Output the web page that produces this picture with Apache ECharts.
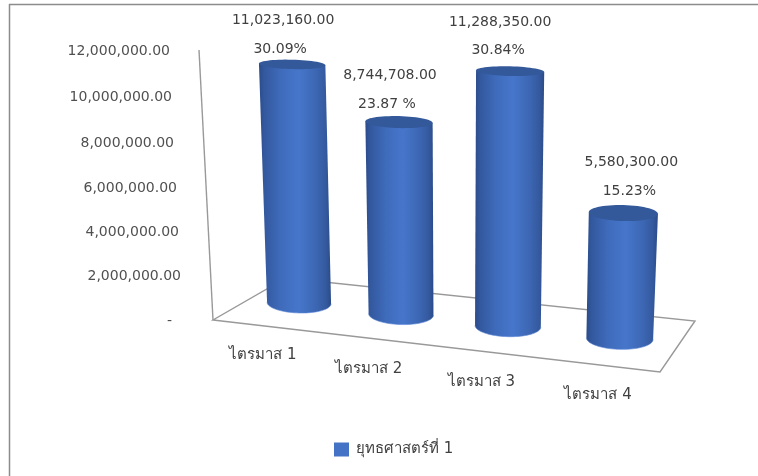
<!DOCTYPE html>
<html><head><meta charset="utf-8">
<style>html,body{margin:0;padding:0;background:#fff}#c{width:758px;height:476px}</style>
<script src="https://cdn.jsdelivr.net/npm/echarts@6/dist/echarts.min.js"></script>
</head><body><div id="c"></div>
<script>
const categories = ['ไตรมาส 1','ไตรมาส 2','ไตรมาส 3','ไตรมาส 4'];
const seriesName = 'ยุทธศาสตร์ที่ 1';
const amounts = [11023160, 8744708, 11288350, 5580300];
const shareLabels = ['30.09%','23.87 %','30.84%','15.23%'];
const yTicks = [0, 2000000, 4000000, 6000000, 8000000, 10000000, 12000000];

const FONT = '14px "DejaVu Sans", sans-serif';
const TEXT = '#404040', LINE = '#999999';
const money = v => v.toLocaleString('en-US',{minimumFractionDigits:2,maximumFractionDigits:2});

// floor corners of the sketched 3D box
const F = {fl:[213,320], fr:[660,372], bl:[286,278], br:[695,321]};
const warp = t => .001 + .907*t + .092*t*t;
function floor(t,d){
  const a=[F.fl[0]+(F.fr[0]-F.fl[0])*t, F.fl[1]+(F.fr[1]-F.fl[1])*t];
  const b=[F.bl[0]+(F.br[0]-F.bl[0])*t, F.bl[1]+(F.br[1]-F.bl[1])*t];
  return [a[0]+(b[0]-a[0])*d, a[1]+(b[1]-a[1])*d];
}
function ell(cx,cy,rx,ry,tilt,a0,a1,n){
  const out=[];
  for(let i=0;i<=n;i++){const a=a0+(a1-a0)*i/n;
    out.push([cx+rx*Math.cos(a), cy+ry*Math.sin(a)+tilt*rx*Math.cos(a)]);}
  return out;
}
const ryAt = y => 3.3 + .022*y;
// per-column perspective scale and label offsets from the column top
const depthScale = [.962,.977,1.004,1.0];
const labelOffsets = [[-9,-44,-12,-15],[-9,-47,-12,-18],[-10,-48.5,-12,-20.5],[8,-51,6,-22]];

function renderCylinder(params, api){
  const i=api.value(0), v=api.value(1), cs=params.coordSys;
  const gb=api.coord([i,0]), gt=api.coord([i,v]);
  const t=warp((gb[0]-cs.x)/cs.width);
  const base=floor(t,.5); base[1]-=1.5;
  const h=(gb[1]-gt[1])*depthScale[params.dataIndex];
  const top=[base[0]+(base[0]-460)*.00018*h, base[1]-h];
  const rb=31.8+1.8*t, rt=rb+1.2;
  const ryb=ryAt(base[1]), ryt=ryAt(top[1]), tilt=.025;
  const bottomArc=ell(base[0],base[1],rb,ryb,tilt,0,Math.PI,40);
  const body=[[top[0]-rt,top[1]-tilt*rt],[top[0]+rt,top[1]+tilt*rt],...bottomArc];
  const cap=ell(top[0],top[1],rt,ryt,tilt,0,Math.PI*2,60);
  const grad=new echarts.graphic.LinearGradient(0,0,1,0,[
    {offset:0,color:'#2b4c8a'},{offset:.08,color:'#33599f'},{offset:.3,color:'#3f6bbb'},
    {offset:.55,color:'#4676cb'},{offset:.8,color:'#3c66b2'},{offset:.93,color:'#34599e'},{offset:1,color:'#2b4b87'}]);
  const s=labelOffsets[params.dataIndex];
  const txt=(text,dx,dy)=>({type:'text',silent:true,style:{text,x:top[0]+dx,y:top[1]+dy,fill:TEXT,font:FONT,align:'center',verticalAlign:'middle'}});
  return {type:'group',children:[
    {type:'polygon',shape:{points:body},style:{fill:grad}},
    {type:'polyline',shape:{points:bottomArc},style:{stroke:'#5a86d6',lineWidth:1,opacity:.6,fill:'none'}},
    {type:'polygon',shape:{points:cap},style:{fill:'#34599b'}},
    txt(money(v),s[0],s[1]),
    txt(shareLabels[params.dataIndex],s[2],s[3])
  ]};
}
function renderFrame(params, api){
  const s={stroke:LINE,lineWidth:1.4,fill:'none'};
  const cs=params.coordSys;
  return {type:'group',children:[
    {type:'polygon',shape:{points:[floor(0,0),floor(1,0),floor(1,1),floor(0,1)]},style:s},
    {type:'line',shape:{x1:F.fl[0],y1:F.fl[1],x2:F.fl[0]-14,y2:cs.y},style:s}
  ]};
}
const yRich={};
const yPad=[[9,1],[0,1],[2,2],[4,3],[7,3],[9,2],[11,1]];
yTicks.forEach((v,k)=>{
  yRich['y'+v]={padding:[yPad[k][1]*2,yPad[k][0],0,0],color:'#505050',fontFamily:'"DejaVu Sans"',fontSize:14};
});
const xRich={};
[[12,0],[24,14],[22,27],[12,40]].forEach(([r,d],i)=>{
  xRich['x'+i]={padding:[d,r,0,0],color:TEXT,fontFamily:'"DejaVu Sans","Noto Sans",sans-serif',fontSize:15};
});
const chart=echarts.init(document.getElementById('c'));
chart.setOption({
  animation:false,
  backgroundColor:'#fff',
  textStyle:{fontFamily:'"DejaVu Sans",sans-serif'},
  graphic:[
    {type:'line',shape:{x1:9,y1:4.5,x2:758,y2:4.5},style:{stroke:'#8c8c8c',lineWidth:1.5},silent:true},
    {type:'line',shape:{x1:9.5,y1:4,x2:9.5,y2:476},style:{stroke:'#8c8c8c',lineWidth:1.5},silent:true}
  ],
  legend:{left:329,top:437,itemWidth:15,itemHeight:14,itemGap:6,icon:'rect',
    textStyle:{color:TEXT,fontSize:15,padding:[0,0,0,2],fontFamily:'"DejaVu Sans",sans-serif'},
    data:[{name:seriesName,itemStyle:{color:'#4472c4'}}]},
  grid:{left:213,width:447,top:50,height:270},
  xAxis:{type:'category',data:categories,axisLine:{show:false},axisTick:{show:false},
    axisLabel:{interval:0,margin:28,verticalAlign:'top',
      formatter:(val,i)=>`{x${i}|${val}}`,rich:xRich}},
  yAxis:{type:'value',min:yTicks[0],max:yTicks[yTicks.length-1],interval:yTicks[1],splitLine:{show:false},
    axisLine:{show:false},axisTick:{show:false},
    axisLabel:{margin:32,formatter:v=>`{y${v}|${v===0?'-':money(v)}}`,rich:yRich}},
  series:[
    {type:'custom',name:'frame',silent:true,renderItem:renderFrame,data:[[0,0]],clip:false,encode:{x:0,y:1},z:1},
    {type:'custom',name:seriesName,renderItem:renderCylinder,clip:false,z:2,
      itemStyle:{color:'#4472c4'},encode:{x:0,y:1},
      data:amounts.map((v,i)=>[i,v])}
  ]
});
</script></body></html>
